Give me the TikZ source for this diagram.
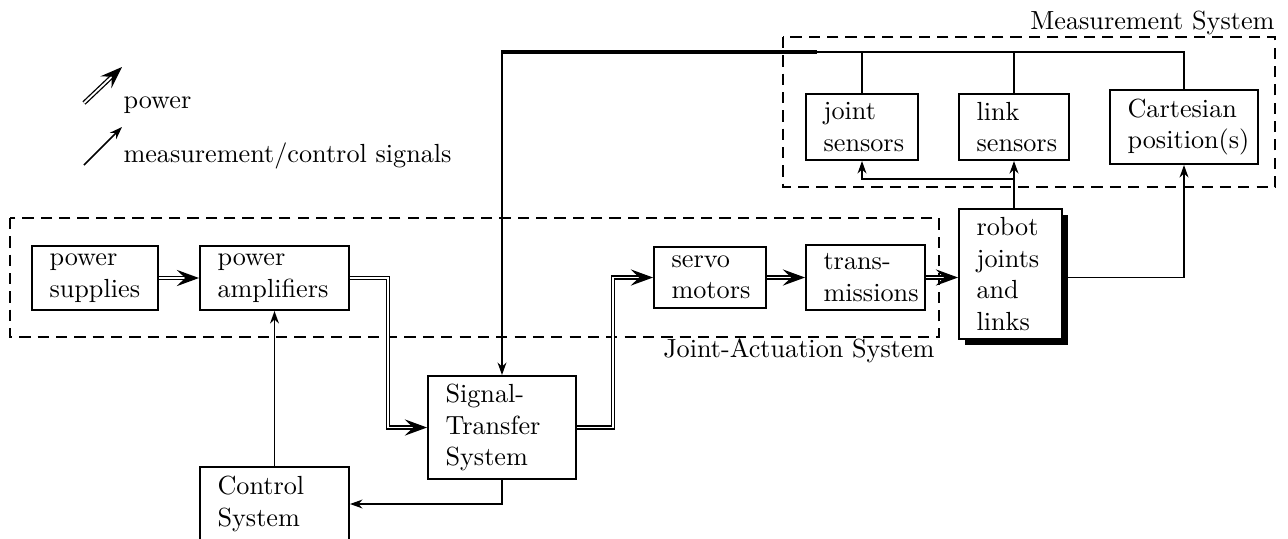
\documentclass[tikz,border=0pt]{standalone}
\usetikzlibrary{arrows.meta,shadows}
\newdimen\px \px=0.3817pt
\begin{document}
\begin{tikzpicture}[x=0.3817pt,y=-0.3817pt,
  box/.style={draw, line width=0.75pt, inner sep=0pt, fill=white},
  txt/.style={align=left, inner sep=0pt, anchor=west},
  sig/.style={line width=0.65pt},
  sigarrow/.style={sig, -{Stealth[length=4.8pt,width=3.4pt,inset=1.6pt]}},
  power/.style={double, line width=0.5pt, double distance=0.7pt,
    -{Stealth[length=8.5pt,width=6.2pt,inset=3.2pt]}},
  group/.style={draw, line width=0.75pt, dash pattern=on 4.3pt off 2.7pt},
  grouplabel/.style={anchor=base east, inner sep=0pt},
]
\useasboundingbox (0,0) rectangle (1288,538);
\clip (0,0) rectangle (1288,538);

% subsystem frames
\draw[group] (10,218) rectangle (939,337);
\draw[group] (783,37) rectangle (1275,187);
\node[grouplabel] (msl) at (1275,29) {Measurement System};
\node[grouplabel] (jal) at (935,357) {Joint-Actuation System};

% legend
\coordinate (lg1a) at (84,103); \coordinate (lg1b) at (122,67);
\draw[power] (lg1a) -- (lg1b);
\node[anchor=base west, inner sep=0pt] (lg1) at (123,108) {power};
\coordinate (lg2a) at (84,165); \coordinate (lg2b) at (122,127);
\draw[sigarrow] (lg2a) -- (lg2b);
\node[anchor=base west, inner sep=0pt] (lg2) at (123,162) {measurement/control signals};

% blocks
\node[box, minimum width=126\px, minimum height=64\px] (ps) at (95,278) {};
\node[txt] (pst) at ([xshift=18\px]ps.west) {power\\supplies};
\node[box, minimum width=149\px, minimum height=64\px] (pa) at (274.5,278) {};
\node[txt] (pat) at ([xshift=18\px]pa.west) {power\\amplifiers};
\node[box, minimum width=148\px, minimum height=103\px] (st) at (502,427.5) {};
\node[txt] (stt) at ([xshift=18\px]st.west) {Signal-\\Transfer\\System};
\node[box, minimum width=149\px, minimum height=74\px] (cs) at (274.5,504) {};
\node[txt] (cst) at ([xshift=18\px]cs.west) {Control\\System};
\node[box, minimum width=112\px, minimum height=61\px] (sm) at (710,277.5) {};
\node[txt] (smt) at ([xshift=18\px]sm.west) {servo\\motors};
\node[box, minimum width=119\px, minimum height=65\px] (tr) at (865.5,277.5) {};
\node[txt] (trt) at ([xshift=18\px]tr.west) {trans-\\missions};
\node[box, minimum width=103\px, minimum height=130\px,
  drop shadow={shadow xshift=5.5\px, shadow yshift=-5.5\px, fill=black, opacity=1}] (rb) at (1010.5,274) {};
\node[txt] (rbt) at ([xshift=18\px]rb.west) {robot\\joints\\and\\links};
\node[box, minimum width=112\px, minimum height=66\px] (js) at (862,127) {};
\node[txt] (jst) at ([xshift=18\px]js.west) {joint\\sensors};
\node[box, minimum width=110\px, minimum height=66\px] (ls) at (1014,127) {};
\node[txt] (lst) at ([xshift=18\px]ls.west) {link\\sensors};
\node[box, minimum width=148\px, minimum height=74\px] (cp) at (1184,127) {};
\node[txt] (cpt) at ([xshift=18\px]cp.west) {Cartesian\\position(s)};

% power flow
\coordinate (j1) at (388,0);
\coordinate (j2) at (613,0);
\draw[power] (ps.east) -- (pa.west);
\draw[power] (pa.east) -- (pa.east -| j1) |- (st.west);
\draw[power] (st.east) -- (st.east -| j2) |- (sm.west);
\draw[power] (sm.east) -- (tr.west);
\draw[power] (tr.east) -- (tr.east -| rb.west);

% measurement and control signals
\coordinate (bus) at (0,52);
\coordinate (busend) at (817,52);
\draw[sigarrow] (cs.north) -- (pa.south);
\draw[sigarrow] (st.south) |- (cs.east);
\draw[sigarrow] (cp.north) |- (st.north |- bus) -- (st.north);
\draw[line width=1.5pt] ([xshift=-0.3pt]st.north |- bus) -- (busend);
\draw[sig] (js.north) -- (js.north |- bus);
\draw[sig] (ls.north) -- (ls.north |- bus);
\draw[sigarrow, line width=0.95pt] (rb.north -| ls.south) -- (ls.south);
\coordinate (br) at (1014,179);
\draw[sigarrow] (br) -| (js.south);
\draw[sigarrow] (tr.east -| rb.east) -| (cp.south);
\end{tikzpicture}
\end{document}
